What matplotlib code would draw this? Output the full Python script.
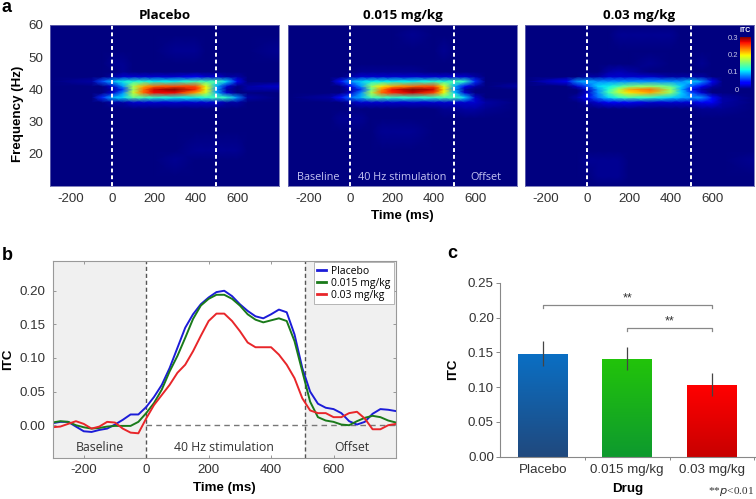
import numpy as np
import matplotlib.pyplot as plt
from matplotlib.colors import LinearSegmentedColormap

plt.rcParams["font.family"] = ["Liberation Sans", "DejaVu Sans"]
plt.rcParams["axes.unicode_minus"] = False

W, H = 756, 499

# heatmap grid, values in units of 0.01 ITC
HEAT_TIMES = [-300, -100, -50, 0, 50, 100, 150, 200, 300, 400, 450, 500, 550, 600, 650, 800]
HEAT_FREQS = [10, 13, 18, 21, 27, 31, 34, 36, 37.5, 39, 40, 41, 42.5, 44, 45.5, 48, 52, 57, 60]
HEAT_PLACEBO = [
    [0, 0, 0, 0, 0, 0, 0, 0, 0, 0, 0, 0, 0, 0, 0, 0],
    [0, 0, 0, 0, 0, 0, 0, 0, 0, 0, 0, 0, 0, 0, 0, 0],
    [0, 0, 0, 0, 0, 0, 0, 0, .5, 0, 0, 0, 0, 0, 0, 0],
    [0, 0, 0, 0, 0, 0, 0, 0, 0, .5, .5, .5, .5, .5, 0, 0],
    [0, 0, 0, 0, 0, 0, 0, 0, 0, 0, 0, 0, 0, 0, 0, 0],
    [0, 0, 0, 0, 0, 0, 0, 0, 0, 0, 0, 0, 0, 0, 0, 0],
    [0, 0, 0, 0, 0, 0, 0, 0, 0, 0, 0, 0, 0, 0, 0, 0],
    [0, 0, 0, 1, 1, 2, 2, 2, 2, 2, 2, 2, 1, 1, 0, 0],
    [0, 0, 5, 9, 10, 14, 13, 12, 11, 11, 12, 13, 12, 8, 1, 0],
    [0, 0, 0, 2, 8, 18, 24, 27, 27, 22, 18, 9, 2, 0, 0, 0],
    [0, 0, 0, 1, 5, 16, 24, 28, 30, 26, 19, 8, 1, 0, 1, 1],
    [0, 0, 0, 2, 8, 17, 22, 24, 25, 25, 19, 9, 2, 0, 1, 2],
    [0, 1, 6, 9, 11, 12, 12, 11, 11, 13, 13, 13, 10, 3, 0, 0],
    [0, 0, 0, 1, 2, 2, 2, 2, 2, 3, 2, 2, 1, 1, 0, 0],
    [0, 0, 0, 0, .5, 0, 0, 0, 0, 0, 0, 0, 0, 0, 0, 0],
    [0, 0, 0, .5, .5, 0, 0, 0, 0, 0, 0, 0, 0, 0, 0, 0],
    [0, 0, 0, 0, 0, 0, 0, 0, .5, .5, 0, 0, 0, 0, 0, .5],
    [0, 0, 0, 0, 0, 0, 0, 0, 0, 0, 0, 0, 0, 0, 0, 0],
    [0, 0, 0, 0, 0, 0, 0, 0, 0, 0, 0, 0, 0, 0, 0, 0],
]
HEAT_LOW = [
    [0, 0, 0, 0, 0, 0, 0, 0, 0, 0, 0, 0, 0, 0, 0, 0],
    [0, 0, 0, 0, 0, 0, 0, 0, 0, 0, 0, 0, 0, 0, 0, 0],
    [0, 0, 0, 0, 0, 0, 0, 0, 0, 0, 0, 0, 0, 0, 0, 0],
    [0, 0, 0, 0, 0, 0, 0, 0, 0, 0, 0, 0, 0, 0, 0, 0],
    [0, 0, 0, 0, 0, 0, .5, .5, .5, 0, 0, 0, 0, 0, 0, 0],
    [0, 0, .5, .5, .5, 0, 0, 0, 0, 0, 0, 0, 0, 0, 0, 0],
    [0, 0, 0, 0, 0, 0, 0, 0, 0, 0, .5, .5, 1, 1, .5, 0],
    [0, 0, 0, 1, 2, 2, 2, 2, 2, 2, 2, 2, 2, 2, 1, 0],
    [0, 1, 4, 7, 9, 13, 13, 12, 12, 12, 13, 13, 10, 2, 0, 0],
    [0, 0, 0, 2, 8, 17, 24, 26, 28, 25, 19, 10, 2, 0, 0, 0],
    [0, 0, 0, 1, 5, 14, 23, 27, 30, 28, 20, 8, 1, 0, 0, 0],
    [0, 0, 0, 3, 8, 16, 20, 22, 24, 25, 19, 9, 3, 1, 0, 1],
    [0, 0, 4, 8, 10, 11, 11, 11, 11, 12, 12, 13, 12, 5, 0, 0],
    [0, 0, 0, 1, 2, 2, 2, 2, 2, 2, 2, 2, 2, 1, 0, 0],
    [0, 0, 0, 0, .5, .5, .5, .5, .5, 0, 0, 0, 0, 0, 0, 0],
    [0, 0, 0, 0, 0, 0, 0, 0, 0, 0, 0, 0, 0, 0, 0, 0],
    [0, 0, 0, 0, 0, 0, 0, 0, 0, 0, .5, 0, 0, 0, 0, 0],
    [0, 0, 0, 0, 0, 0, 0, 0, .5, 0, 0, 0, 0, 0, 0, 0],
    [0, 0, 0, 0, 0, 0, 0, 0, 0, 0, 0, 0, 0, 0, 0, 0],
]
HEAT_HIGH = [
    [0, 0, 0, 0, 0, 0, 0, 0, 0, 0, 0, 0, 0, 0, 0, 0],
    [0, 0, 0, 0, .5, .5, .5, 0, 0, 0, 0, 0, 0, 0, 0, 0],
    [0, 0, 0, .5, .5, .5, .5, 0, 0, 0, 0, 0, 0, 0, 0, .5],
    [0, 0, 0, 0, 0, 0, 0, 0, 0, 0, 0, 0, 0, 0, 0, 0],
    [0, 0, 0, 0, 0, 0, 0, 0, 0, 0, 0, 0, 0, 0, 0, 0],
    [0, 0, 0, 0, 0, 0, 0, 0, 0, 0, 0, 0, 0, 0, 0, 0],
    [0, 0, 0, 0, 0, 0, 0, 0, 0, 0, 0, 0, .5, .5, .5, 0],
    [0, 0, 0, 1, 2, 3, 3, 3, 2, 2, 2, 2, 3, 3, 1, 0],
    [0, 0, 1, 3, 7, 10, 12, 13, 12, 10, 9, 8, 8, 4, 1, 0],
    [0, 0, 0, 2, 8, 13, 17, 20, 22, 16, 10, 6, 2, 0, 0, 0],
    [0, 0, 0, 2, 8, 12, 17, 22, 24, 16, 9, 3, 1, 0, 0, 0],
    [0, 0, 2, 6, 10, 11, 13, 15, 16, 14, 10, 6, 3, 1, 0, 0],
    [0, 3, 8, 9, 8, 8, 8, 8, 8, 8, 8, 10, 8, 3, 0, 0],
    [0, 0, 0, 1, 1, 2, 2, 2, 2, 1, 1, 1, 1, 0, 0, 0],
    [0, 0, 0, 0, 0, 1, 1.5, 1, 0, 0, 0, 0, 0, 0, 0, 0],
    [0, 0, 0, 0, 0, 0, 0, 0, .5, 0, 0, 0, .5, 0, 0, 0],
    [0, 0, 0, 0, 0, 0, 0, 0, 0, 0, 0, 0, 0, 0, 0, 0],
    [0, 0, 0, 0, 0, 0, .5, .5, .5, .5, 0, 0, 0, 0, 0, 0],
    [0, 0, 0, 0, 0, 0, 0, 0, 0, 0, 0, 0, 0, 0, 0, 0],
]
HEAT_TITLES = ["Placebo", "0.015 mg/kg", "0.03 mg/kg"]

# time courses of panel b, one value every 25 ms
TIME = list(range(-300, 801, 25))
ITC_PLACEBO = [.003, .005, .005, -.002, -.009, -.010, -.007, -.005, .001, .008, .016, .016,
               .027, .042, .060, .085, .115, .145, .165, .180, .190, .198, .200, .192, .180,
               .170, .162, .159, .165, .172, .168, .135, .085, .050, .032, .026, .024, .018,
               .006, .001, .005, .017, .024, .023, .021]
ITC_MID = [.004, .006, .005, .000, -.003, -.005, -.004, -.002, -.001, -.001, -.001, .005,
           .018, .033, .053, .080, .103, .130, .158, .178, .188, .194, .194, .188, .178,
           .165, .157, .153, .156, .159, .155, .125, .080, .035, .012, .007, .005, .001,
           .000, .006, .011, .014, .012, .007, .004]
ITC_HIGH = [-.003, -.002, .002, .006, .002, -.005, -.002, .005, .004, -.005, -.011, -.012,
            .010, .030, .045, .060, .078, .090, .110, .133, .155, .166, .166, .155, .140,
            .123, .116, .116, .116, .105, .090, .070, .040, .022, .018, .018, .012, .012,
            .018, .020, .010, -.006, -.006, .000, .002]

# bars of panel c
DRUGS = ["Placebo", "0.015 mg/kg", "0.03 mg/kg"]
BAR_MEANS = [.148, .141, .103]
BAR_LOW = [.131, .125, .087]
BAR_HIGH = [.166, .158, .120]


def axes_px(fig, left, top, right, bottom):
    return fig.add_axes([left / W, 1 - bottom / H, (right - left) / W, (bottom - top) / H])


fig = plt.figure(figsize=(W / 100, H / 100), dpi=100)
TICK_GRAY = "#333333"
FS = 9.6
open_sans = ["Open Sans", "DejaVu Sans"]

# a: heatmaps
lefts = [50, 288, 525]
for i, grid in enumerate([HEAT_PLACEBO, HEAT_LOW, HEAT_HIGH]):
    ax = axes_px(fig, lefts[i], 25, lefts[i] + 229, 186)
    z = np.array(grid) / 100
    mesh = ax.pcolormesh(HEAT_TIMES, HEAT_FREQS, z, cmap="jet", vmin=0, vmax=0.3,
                         shading="gouraud", rasterized=True)
    for t in [0, 495]:
        ax.axvline(t, color="white", lw=1.4, ls=(0, (2.0, 1.5)))
    ax.set_xlim(-300, 800)
    ax.set_ylim(10, 60)
    ax.set_xticks([-200, 0, 200, 400, 600])
    ax.set_yticks([20, 30, 40, 50, 60] if i == 0 else [])
    ax.tick_params(length=0, labelsize=FS, labelcolor=TICK_GRAY, pad=5)
    for s in ax.spines.values():
        s.set_color("#6a6ab0")
        s.set_linewidth(0.6)
    ax.set_title(HEAT_TITLES[i], fontsize=9.6, fontweight="bold", family=open_sans, pad=4)
    if i == 0:
        ax.set_ylabel("Frequency (Hz)", fontsize=FS, fontweight="bold")
        ax.yaxis.set_label_coords(-0.114, 0.45)
    if i == 1:
        ax.set_xlabel("Time (ms)", fontsize=FS, fontweight="bold")
        ax.xaxis.set_label_coords(0.5, -0.149)
        for x, s in [(-155, "Baseline"), (250, "40 Hz stimulation"), (650, "Offset")]:
            ax.text(x, 12.5, s, color="#c4c4f2", fontsize=7.8, ha="center", va="center", family=open_sans)
    if i == 2:
        cax = axes_px(fig, 740, 37, 751, 89)
        cb = fig.colorbar(mesh, cax=cax, ticks=[0, .1, .2, .3])
        cb.ax.yaxis.set_ticks_position("left")
        cb.ax.set_yticklabels(["0", "0.1", "0.2", "0.3"])
        cb.ax.tick_params(length=0, labelsize=5.5, labelcolor="#c8c8e8", pad=1)
        cb.outline.set_visible(False)
        fig.text(745 / W, 1 - 31 / H, "ITC", color="white", fontsize=5, fontweight="bold",
                 ha="center", va="center")

# b: time courses
ax = axes_px(fig, 52.5, 260.5, 396, 457.5)
ax.axvspan(-300, 0, color="#f0f0f0", lw=0)
ax.axvspan(508, 800, color="#f0f0f0", lw=0)
ax.plot([0, 800], [0, 0], color="#777777", lw=1, ls=(0, (4, 3)))
for t in [0, 508]:
    ax.axvline(t, color="#555555", lw=1, ls=(0, (3, 2)))
ax.plot(TIME, ITC_PLACEBO, color="#1c1cd8", lw=1.4, label="Placebo")
ax.plot(TIME, ITC_MID, color="#1a7a1a", lw=1.4, label="0.015 mg/kg")
ax.plot(TIME, ITC_HIGH, color="#e8262a", lw=1.4, label="0.03 mg/kg")
ax.set_xlim(-300, 800)
ax.set_ylim(-0.048, 0.245)
ax.set_xticks([-200, 0, 200, 400, 600])
ax.set_yticks([0, .05, .10, .15, .20])
ax.set_yticklabels(["0.00", "0.05", "0.10", "0.15", "0.20"])
ax.tick_params(direction="in", length=2, width=0.6, color="#888888", labelsize=FS,
               labelcolor=TICK_GRAY, right=True, top=True, pad=5)
for s in ax.spines.values():
    s.set_color("#999999")
    s.set_linewidth(0.8)
ax.set_xlabel("Time (ms)", fontsize=FS, fontweight="bold")
ax.xaxis.set_label_coords(0.5, -0.124)
ax.set_ylabel("ITC", fontsize=FS, fontweight="bold")
ax.yaxis.set_label_coords(-0.112, 0.5)
for x, s in [(-148, "Baseline"), (250, "40 Hz stimulation"), (657, "Offset")]:
    ax.text(x, -0.033, s, fontsize=8.8, color="#333333", ha="center", va="center", family=open_sans)
leg = ax.legend(loc="upper right", bbox_to_anchor=(0.994, 0.99), borderaxespad=0,
                prop={"family": open_sans, "size": 7.5}, fancybox=False, framealpha=1,
                edgecolor="#aaaaaa", handlelength=0.9, handletextpad=0.5, labelspacing=0.1,
                borderpad=0.3)
leg.get_frame().set_linewidth(0.6)
for line in leg.get_lines():
    line.set_linewidth(2)

# c: bars
ax = axes_px(fig, 499.5, 282.7, 755, 456.7)
tops = ["#0a6fc4", "#22c40a", "#ff0000"]
bottoms = ["#20497e", "#0e9a2e", "#c80000"]
bars = ax.bar(range(3), BAR_MEANS, width=0.59, color="none", edgecolor="none")
for bar, c1, c2 in zip(bars, tops, bottoms):
    cmap = LinearSegmentedColormap.from_list("bar", [c2, c1])
    img = ax.imshow(np.linspace(0, 1, 64).reshape(-1, 1), cmap=cmap, origin="lower", aspect="auto",
                    extent=[bar.get_x(), bar.get_x() + bar.get_width(), 0, bar.get_height()])
    img.set_clip_path(bar)
ax.vlines(range(3), BAR_LOW, BAR_HIGH, color="#444444", lw=0.9, zorder=3)
for x0, y, ystar in [(0, .218, .228), (1, .185, .195)]:
    ax.plot([x0, x0, 2, 2], [y - .005, y, y, y - .005], color="#888888", lw=0.9)
    ax.text((x0 + 2) / 2, ystar, "**", fontsize=9, ha="center", va="center", color="#333333")
ax.set_xlim(-0.51, 2.51)
ax.set_ylim(0, 0.25)
ax.set_xticks(range(3))
ax.set_xticklabels(DRUGS)
ax.set_xticks([0.5, 1.5, 2.5], minor=True)
ax.set_yticks([0, .05, .10, .15, .20, .25])
ax.set_yticklabels(["0.00", "0.05", "0.10", "0.15", "0.20", "0.25"])
ax.tick_params(axis="x", which="major", length=0, labelsize=FS, labelcolor=TICK_GRAY, pad=5)
ax.tick_params(axis="x", which="minor", length=2, width=0.7, color="#888888")
ax.tick_params(axis="y", length=3, width=0.7, color="#888888", labelsize=FS, labelcolor=TICK_GRAY, pad=1)
ax.spines[["top", "right"]].set_visible(False)
ax.spines[["left", "bottom"]].set_color("#888888")
ax.set_xlabel("Drug", fontsize=FS, fontweight="bold")
ax.xaxis.set_label_coords(0.5, -0.151)
ax.set_ylabel("ITC", fontsize=FS, fontweight="bold")
ax.yaxis.set_label_coords(-0.158, 0.5)
fig.text(754 / W, 1 - 491.5 / H, r"**$\mathit{p}$<0.01", fontsize=8.2, ha="right", va="center",
         family=["Liberation Serif"], color="#333333")

# panel letters
for x, y, s in [(2, 7, "a"), (2, 255, "b"), (447, 254, "c")]:
    fig.text(x / W, 1 - y / H, s, fontsize=13, fontweight="bold", va="center")

fig.savefig("out.png", dpi=100)
